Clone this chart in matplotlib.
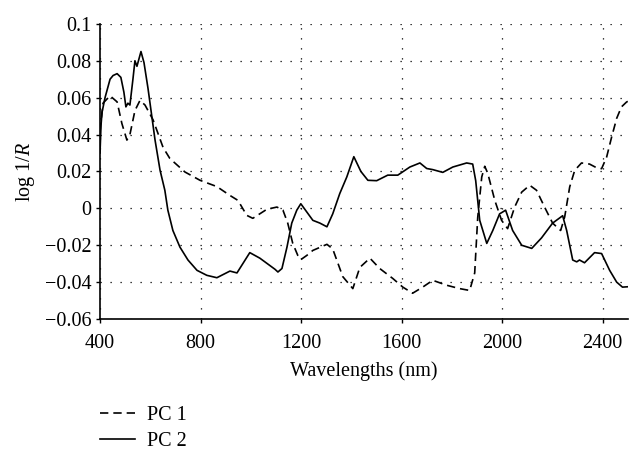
import numpy as np
import matplotlib
matplotlib.use("Agg")
import matplotlib.pyplot as plt

plt.rcParams["font.family"] = ["Liberation Serif", "DejaVu Serif"]
plt.rcParams["mathtext.fontset"] = "custom"
plt.rcParams["mathtext.rm"] = "Liberation Serif"
plt.rcParams["mathtext.it"] = "Liberation Serif:italic"

# PC 1 loadings (dashed)
pc1_nm = [400, 412, 440, 468, 487, 507, 519, 539, 559, 579, 611, 651, 678, 738,
          798, 865, 917, 949, 984, 1008, 1064, 1104, 1128, 1147, 1167, 1187,
          1199, 1223, 1247, 1303, 1326, 1366, 1406, 1434, 1474, 1513, 1565,
          1605, 1644, 1684, 1724, 1780, 1831, 1871, 1891, 1903, 1919, 1931,
          1943, 1971, 1998, 2022, 2050, 2078, 2110, 2137, 2169, 2201, 2233,
          2249, 2269, 2289, 2316, 2348, 2376, 2396, 2416, 2436, 2456, 2475,
          2495, 2500]
pc1_val = [0.042, 0.057, 0.061, 0.0577, 0.046, 0.037, 0.040, 0.053, 0.0585,
           0.056, 0.048, 0.033, 0.027, 0.0197, 0.0152, 0.0118, 0.007, 0.0043,
           -0.0038, -0.0054, -0.0005, 0.0007, -0.001, -0.008, -0.019, -0.0255,
           -0.0278, -0.0255, -0.0228, -0.0195, -0.022, -0.037, -0.0435, -0.032,
           -0.027, -0.0326, -0.038, -0.0427, -0.046, -0.0427, -0.039, -0.0417,
           -0.0435, -0.0445, -0.035, -0.005, 0.017, 0.0228, 0.019, 0.0043,
           -0.0065, -0.011, 0.0007, 0.0088, 0.0125, 0.0098, 0.0007, -0.008,
           -0.012, -0.0047, 0.0116, 0.0206, 0.0246, 0.024, 0.022, 0.0215,
           0.0278, 0.0387, 0.0488, 0.055, 0.0576, 0.058]

# PC 2 loadings (solid)
pc2_nm = [400, 404, 408, 420, 440, 452, 468, 483, 495, 503, 511, 519, 531, 539,
          547, 563, 575, 591, 619, 639, 658, 670, 690, 718, 750, 786, 825, 865,
          917, 945, 996, 1036, 1096, 1108, 1124, 1144, 1163, 1183, 1199, 1223,
          1247, 1275, 1303, 1326, 1354, 1382, 1410, 1438, 1466, 1501, 1545,
          1585, 1633, 1673, 1700, 1724, 1764, 1804, 1859, 1883, 1895, 1911,
          1939, 1963, 1990, 2014, 2042, 2078, 2118, 2157, 2201, 2241, 2257,
          2281, 2297, 2308, 2328, 2368, 2396, 2428, 2456, 2479, 2500]
pc2_val = [0.030, 0.045, 0.052, 0.060, 0.070, 0.072, 0.073, 0.071, 0.063,
           0.055, 0.057, 0.056, 0.070, 0.080, 0.077, 0.085, 0.079, 0.065,
           0.037, 0.0206, 0.0098, -0.001, -0.012, -0.021, -0.028, -0.0336,
           -0.0363, -0.0376, -0.034, -0.035, -0.024, -0.027, -0.033, -0.0345,
           -0.0326, -0.021, -0.008, -0.001, 0.0025, -0.002, -0.0065, -0.008,
           -0.010, -0.003, 0.008, 0.017, 0.028, 0.020, 0.0152, 0.015, 0.018,
           0.018, 0.0224, 0.0246, 0.0216, 0.021, 0.0195, 0.0224, 0.0246, 0.024,
           0.015, -0.0065, -0.019, -0.012, -0.003, -0.001, -0.012, -0.020,
           -0.0217, -0.016, -0.008, -0.004, -0.012, -0.028, -0.029, -0.028,
           -0.0295, -0.024, -0.0245, -0.0336, -0.040, -0.0427, -0.0425]

x_ticks = [400, 800, 1200, 1600, 2000, 2400]
y_ticks = [-0.06, -0.04, -0.02, 0, 0.02, 0.04, 0.06, 0.08, 0.1]
y_labels = ["\u22120.06", "\u22120.04", "\u22120.02", "0", "0.02", "0.04",
            "0.06", "0.08", "0.1"]

fig = plt.figure(figsize=(6.29, 4.5), dpi=100)
ax = fig.add_axes([0.159, 0.291, 0.839, 0.656])

ax.plot(pc1_nm, pc1_val, color="black", lw=1.2, ls=(0, (5, 3)), label="PC 1")
ax.plot(pc2_nm, pc2_val, color="black", lw=1.2, label="PC 2")

ax.set_xlim(400, 2500)
ax.set_ylim(-0.06, 0.1)
ax.set_xticks(x_ticks)
ax.set_yticks(y_ticks)
ax.set_yticklabels(y_labels)
ax.tick_params(labelsize=14.5, length=3, width=1, direction="out", pad=3)
ax.tick_params(axis="x", pad=8)
ax.grid(True, color="black", lw=0.9, ls=(0, (1, 7)))
for s in ("top", "right"):
    ax.spines[s].set_visible(False)
for s in ("left", "bottom"):
    ax.spines[s].set_linewidth(1.2)

ax.set_xlabel("Wavelengths (nm)", fontsize=14.5, labelpad=6)
ax.set_ylabel("log 1/$R$", fontsize=14.5, labelpad=6)

fig.legend(loc="upper left", bbox_to_anchor=(0.159, 0.097), frameon=False,
           fontsize=14.5, handlelength=1.75, handletextpad=0.6,
           labelspacing=0.3, borderaxespad=0.0, borderpad=0.0)

fig.savefig("out.png", dpi=100)
